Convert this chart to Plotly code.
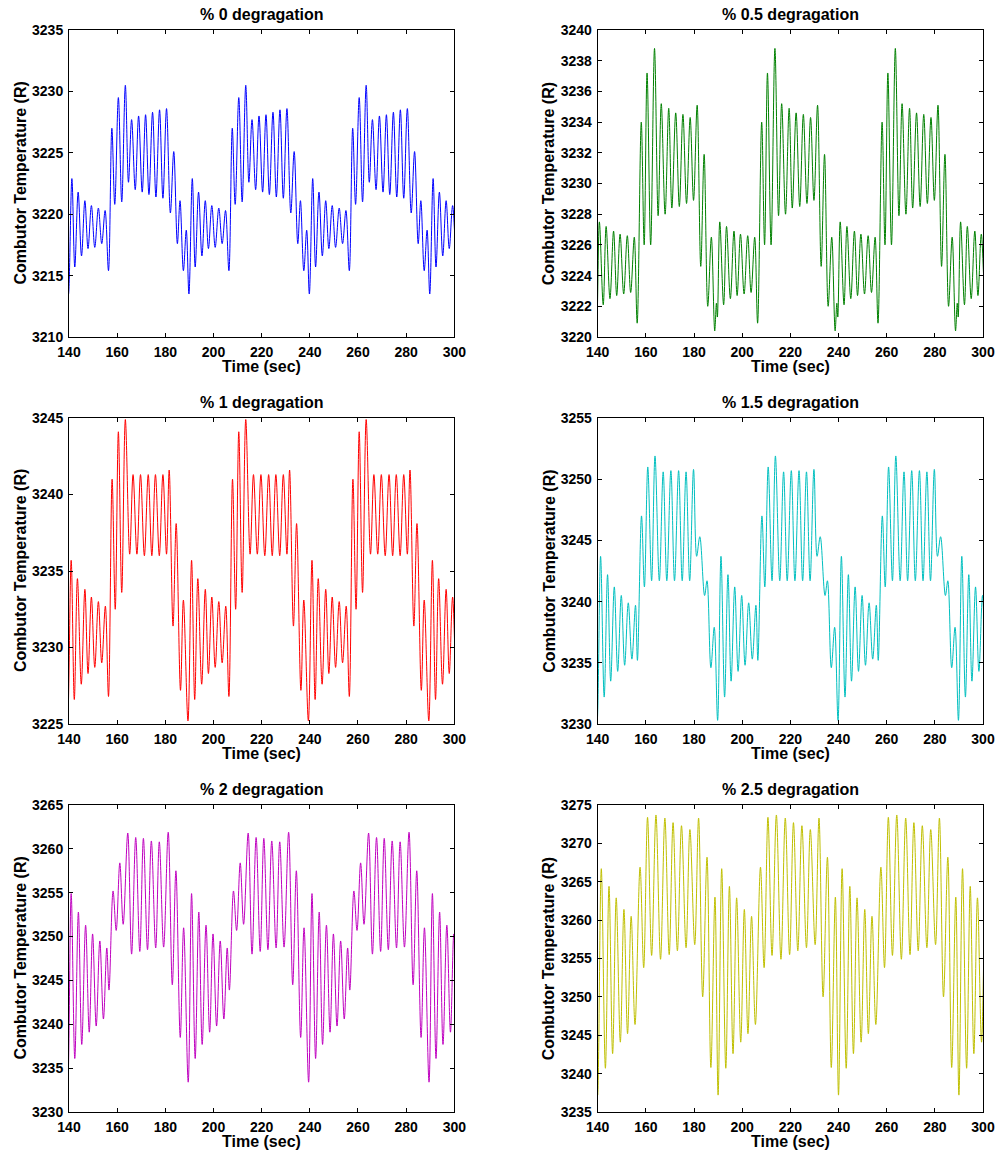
import plotly.graph_objects as go

# Each panel repeats the same 50 s pattern three times;
# one cycle of extrema (time offset from cycle start, value) is listed per panel.
CYCLE = 50.0
X_TICKS = [140, 160, 180, 200, 220, 240, 260, 280, 300]

# % 0 degragation
p0_start = 156.4
p0_dt = [0, 1.4, 2.6, 4.1, 5.5, 7.0, 8.3, 9.6, 11.1, 12.5, 14.0, 15.4, 16.8, 18.3, 19.7, 21.2,
         22.6, 24.1, 25.7, 27.1, 28.6, 29.7, 31.1, 32.3, 33.4, 34.8, 36.0, 37.4, 38.8, 40.2,
         41.5, 42.9, 44.3, 45.8, 47.2, 48.6]
p0_val = [3215.4, 3227.0, 3220.8, 3229.5, 3221.0, 3230.5, 3222.6, 3227.7, 3222.0, 3228.0,
          3221.8, 3228.1, 3221.6, 3228.3, 3221.4, 3228.5, 3221.3, 3228.6, 3220.1, 3225.1,
          3217.6, 3221.1, 3215.4, 3218.7, 3213.5, 3222.9, 3215.7, 3221.8, 3216.6, 3221.1,
          3217.2, 3220.7, 3217.3, 3220.5, 3217.6, 3220.3]
p0_ticks = [3210, 3215, 3220, 3225, 3230, 3235]

# % 0.5 degragation
p05_start = 156.4
p05_dt = [0, 1.7, 2.9, 4.1, 5.6, 7.2, 8.7, 10.0, 11.6, 13.1, 14.4, 16.0, 17.5, 19.0, 20.5, 22.0,
          23.4, 24.9, 26.4, 27.8, 29.3, 30.8, 32.2, 32.9, 33.3, 34.3, 35.9, 37.1, 38.7, 40.2,
          41.5, 42.9, 44.4, 45.9, 47.3, 48.8]
p05_val = [3220.9, 3234.0, 3226.0, 3237.2, 3226.0, 3238.8, 3227.9, 3235.2, 3228.0, 3234.9,
           3228.4, 3234.6, 3228.5, 3234.5, 3228.7, 3234.3, 3228.9, 3235.1, 3224.6, 3231.9,
           3222.0, 3226.5, 3220.4, 3222.2, 3221.3, 3227.5, 3222.1, 3227.2, 3222.5, 3226.9,
           3222.7, 3226.7, 3222.8, 3226.6, 3222.9, 3226.5]
p05_ticks = [3220, 3222, 3224, 3226, 3228, 3230, 3232, 3234, 3236, 3238, 3240]

# % 1 degragation
p1_start = 156.4
p1_dt = [0, 1.5, 2.8, 4.1, 5.5, 7.0, 8.8, 10.2, 11.8, 13.3, 14.9, 16.5, 18.0, 19.5, 21.1, 22.6,
         24.1, 25.2, 26.8, 28.1, 29.9, 31.1, 33.0, 34.5, 35.8, 37.1, 38.7, 40.2, 41.5, 42.9,
         44.3, 45.8, 47.2, 48.7]
p1_val = [3226.8, 3241.0, 3232.5, 3244.1, 3233.6, 3244.9, 3236.1, 3241.3, 3236.1, 3241.3,
          3236.0, 3241.3, 3236.0, 3241.3, 3236.0, 3241.3, 3236.1, 3241.6, 3231.4, 3238.1,
          3227.2, 3233.1, 3225.2, 3235.7, 3226.6, 3234.5, 3227.6, 3233.8, 3228.3, 3233.3,
          3228.7, 3233.0, 3229.0, 3232.7]
p1_ticks = [3225, 3230, 3235, 3240, 3245]

# % 1.5 degragation
p15_start = 156.5
p15_dt = [0, 1.7, 2.9, 4.3, 5.9, 7.3, 9.1, 10.7, 12.2, 13.9, 15.4, 17.1, 18.6, 20.2, 21.7, 23.3,
          24.6, 25.9, 27.9, 28.9, 30.5, 31.9, 33.3, 34.7, 36.2, 37.6, 38.9, 40.4, 41.8, 43.3,
          44.7, 46.2, 47.7, 49.2]
p15_val = [3235.2, 3247.0, 3241.2, 3251.0, 3241.7, 3251.9, 3241.7, 3250.6, 3241.7, 3250.7,
           3241.7, 3250.7, 3241.7, 3250.6, 3241.7, 3250.8, 3243.7, 3245.3, 3240.5, 3241.7,
           3234.6, 3237.9, 3230.3, 3243.7, 3232.2, 3242.2, 3233.5, 3241.2, 3234.3, 3240.5,
           3234.8, 3239.9, 3235.3, 3239.7]
p15_ticks = [3230, 3235, 3240, 3245, 3250, 3255]

# % 2 degragation
p2_start = 156.6
p2_dt = [0, 1.7, 3.0, 4.5, 5.9, 7.8, 9.4, 11.1, 12.8, 14.3, 16.0, 17.6, 19.4, 20.9, 22.7, 24.6,
         26.3, 27.8, 29.6, 31.0, 32.9, 34.3, 35.8, 37.3, 38.7, 40.3, 41.8, 43.2, 44.7, 46.2,
         47.7, 49.1]
p2_val = [3243.9, 3255.2, 3250.7, 3258.4, 3251.4, 3261.8, 3248.0, 3261.3, 3248.3, 3261.2,
          3248.5, 3260.9, 3248.7, 3260.8, 3248.8, 3261.9, 3244.5, 3257.5, 3238.5, 3251.0,
          3233.4, 3254.9, 3236.1, 3252.8, 3237.7, 3251.3, 3239.1, 3250.3, 3239.8, 3249.5,
          3240.6, 3248.7]
p2_ticks = [3230, 3235, 3240, 3245, 3250, 3255, 3260, 3265]

# % 2.5 degragation
p25_start = 155.5
p25_dt = [0, 2.1, 3.6, 5.2, 6.9, 8.7, 10.6, 12.4, 14.2, 15.8, 17.6, 19.3, 21.2, 22.8, 24.8, 26.4,
          28.1, 29.9, 31.5, 33.2, 34.5, 36.0, 37.7, 39.2, 40.7, 42.2, 43.9, 45.4, 46.9, 48.4]
p25_val = [3246.4, 3266.9, 3253.8, 3273.4, 3255.4, 3273.7, 3254.9, 3273.3, 3255.5, 3272.7,
           3256.0, 3272.3, 3256.4, 3271.8, 3256.8, 3273.3, 3250.0, 3268.2, 3240.8, 3263.0,
           3237.2, 3266.7, 3240.7, 3264.4, 3242.6, 3262.9, 3244.1, 3261.4, 3245.2, 3260.5]
p25_ticks = [3235, 3240, 3245, 3250, 3255, 3260, 3265, 3270, 3275]

panels = [
    ("% 0 degragation", "#0000ff", p0_start, p0_dt, p0_val, p0_ticks),
    ("% 0.5 degragation", "#008000", p05_start, p05_dt, p05_val, p05_ticks),
    ("% 1 degragation", "#ff0000", p1_start, p1_dt, p1_val, p1_ticks),
    ("% 1.5 degragation", "#00bfbf", p15_start, p15_dt, p15_val, p15_ticks),
    ("% 2 degragation", "#bf00bf", p2_start, p2_dt, p2_val, p2_ticks),
    ("% 2.5 degragation", "#bfbf00", p25_start, p25_dt, p25_val, p25_ticks),
]

W, H = 1007, 1153
ML, MR, MT, MB = 69, 20, 30, 41
PW, PH = W - ML - MR, H - MT - MB
col_dom = [[0, 387 / PW], [531 / PW, 1]]
row_dom = [[775 / PH, 1], [388 / PH, 694 / PH], [0, 307 / PH]]

FONT = "Liberation Sans, Arial, sans-serif"
fig = go.Figure()
annotations = []
layout = {}

for i, (title, color, start, dt, val, yt) in enumerate(panels):
    r, c = divmod(i, 2)
    n = i + 1
    xa = "x" if n == 1 else f"x{n}"
    ya = "y" if n == 1 else f"y{n}"
    xs, ys = [], []
    for k in range(-1, 3):
        for d, v in zip(dt, val):
            xs.append(start + CYCLE * k + d)
            ys.append(v)
    fig.add_trace(go.Scatter(x=xs, y=ys, mode="lines", xaxis=xa, yaxis=ya,
                             line=dict(color=color, width=1, shape="spline", smoothing=1.0),
                             showlegend=False, hoverinfo="skip"))
    common = dict(showline=True, linecolor="black", linewidth=1, mirror="ticks",
                  ticks="inside", ticklen=4, tickcolor="black", showgrid=False,
                  zeroline=False, tickfont=dict(family=FONT, size=14, color="black", weight="bold"))
    layout["xaxis" if n == 1 else f"xaxis{n}"] = dict(
        domain=col_dom[c], anchor=ya, range=[140, 300], tickvals=X_TICKS,
        ticktext=[str(v) for v in X_TICKS], ticklabelstandoff=2, **common)
    layout["yaxis" if n == 1 else f"yaxis{n}"] = dict(
        domain=row_dom[r], anchor=xa, range=[yt[0], yt[-1]], tickvals=yt,
        ticktext=[str(v) for v in yt], ticklabelstandoff=2, **common)
    xc = (col_dom[c][0] + col_dom[c][1]) / 2
    yc = (row_dom[r][0] + row_dom[r][1]) / 2
    annotations.append(dict(text=title, xref="paper", yref="paper", x=xc, y=row_dom[r][1],
                            xanchor="center", yanchor="middle", yshift=16, showarrow=False,
                            font=dict(family=FONT, size=16, color="black", weight="bold")))
    annotations.append(dict(text="Time (sec)", xref="paper", yref="paper", x=xc, y=row_dom[r][0],
                            xanchor="center", yanchor="middle", yshift=-29, showarrow=False,
                            font=dict(family=FONT, size=16, color="black", weight="bold")))
    annotations.append(dict(text="Combutor Temperature (R)", xref="paper", yref="paper",
                            x=col_dom[c][0], xshift=-49, y=yc, xanchor="center", yanchor="middle",
                            textangle=-90, showarrow=False,
                            font=dict(family=FONT, size=16, color="black", weight="bold")))

fig.update_layout(width=W, height=H, margin=dict(l=ML, r=MR, t=MT, b=MB),
                  paper_bgcolor="white", plot_bgcolor="white",
                  annotations=annotations, **layout)
fig.write_html("out.html")
